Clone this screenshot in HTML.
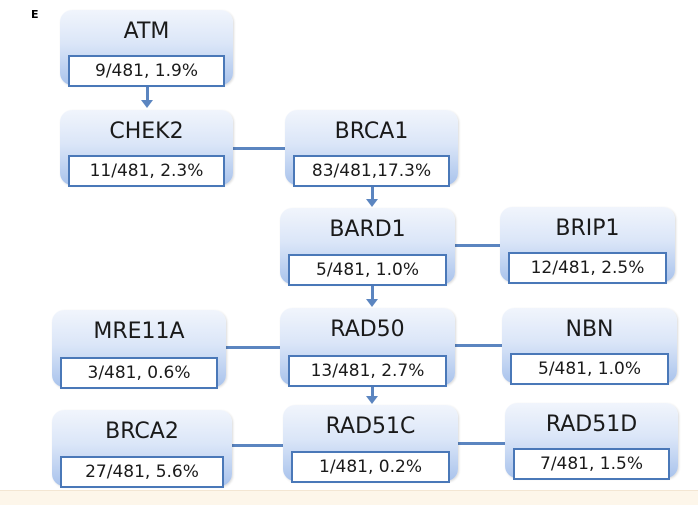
<!DOCTYPE html>
<html><head><meta charset="utf-8"><style>
body{margin:0;width:698px;height:504px;background:#fff;position:relative;overflow:hidden;font-family:"DejaVu Sans","Liberation Sans",sans-serif}
.box{position:absolute;border-radius:12px;background:linear-gradient(#f1f5fc,#dbe6f8 45%,#a9c3ec);box-shadow:1px 1px 2px rgba(0,0,0,.15)}
.t{position:absolute;left:0;right:0;top:9px;text-align:center;font-size:22px;color:#1a1a1a}
.v{position:absolute;left:8px;right:8px;bottom:-2px;height:32px;background:#fff;border:2px solid #4a78b8;box-sizing:border-box;font-size:17px;color:#1a1a1a;line-height:29px;text-align:center}
.ln{position:absolute;background:#5b85c0}
.ar{position:absolute;width:0;height:0;border-left:6px solid transparent;border-right:6px solid transparent;border-top:8px solid #5b85c0}
#strip{position:absolute;left:0;top:490px;width:698px;height:14px;background:#fdf6ea;border-top:1px solid #f3e6d3}
</style></head><body>
<div style="position:absolute;left:31px;top:8px;font-size:11px;font-weight:bold">E</div>
<div id="strip"></div>

<div class="ln" style="left:146px;top:86px;width:3px;height:15px"></div><div class="ar" style="left:141px;top:100px"></div>
<div class="ln" style="left:233px;top:147px;width:52px;height:3px"></div>
<div class="ln" style="left:371px;top:186px;width:3px;height:14px"></div><div class="ar" style="left:366px;top:199px"></div>
<div class="ln" style="left:455px;top:244px;width:45px;height:3px"></div>
<div class="ln" style="left:371px;top:285px;width:3px;height:15px"></div><div class="ar" style="left:366px;top:299px"></div>
<div class="ln" style="left:226px;top:346px;width:54px;height:3px"></div>
<div class="ln" style="left:455px;top:344px;width:47px;height:3px"></div>
<div class="ln" style="left:371px;top:386px;width:3px;height:11px"></div><div class="ar" style="left:366px;top:396px"></div>
<div class="ln" style="left:232px;top:444px;width:51px;height:3px"></div>
<div class="ln" style="left:458px;top:442px;width:47px;height:3px"></div>

<div class="box" style="left:60px;top:10px;width:173px;height:75px"><div class="t">ATM</div><div class="v">9/481, 1.9%</div></div>
<div class="box" style="left:60px;top:110px;width:173px;height:75px"><div class="t">CHEK2</div><div class="v">11/481, 2.3%</div></div>
<div class="box" style="left:285px;top:110px;width:173px;height:75px"><div class="t">BRCA1</div><div class="v">83/481,17.3%</div></div>
<div class="box" style="left:280px;top:208px;width:175px;height:76px"><div class="t">BARD1</div><div class="v">5/481, 1.0%</div></div>
<div class="box" style="left:500px;top:207px;width:175px;height:75px"><div class="t">BRIP1</div><div class="v">12/481, 2.5%</div></div>
<div class="box" style="left:52px;top:310px;width:174px;height:77px"><div class="t">MRE11A</div><div class="v">3/481, 0.6%</div></div>
<div class="box" style="left:280px;top:308px;width:175px;height:77px"><div class="t">RAD50</div><div class="v">13/481, 2.7%</div></div>
<div class="box" style="left:502px;top:308px;width:175px;height:75px"><div class="t">NBN</div><div class="v">5/481, 1.0%</div></div>
<div class="box" style="left:52px;top:410px;width:180px;height:76px"><div class="t">BRCA2</div><div class="v">27/481, 5.6%</div></div>
<div class="box" style="left:283px;top:405px;width:175px;height:76px"><div class="t">RAD51C</div><div class="v">1/481, 0.2%</div></div>
<div class="box" style="left:505px;top:403px;width:173px;height:75px"><div class="t">RAD51D</div><div class="v">7/481, 1.5%</div></div>
</body></html>
